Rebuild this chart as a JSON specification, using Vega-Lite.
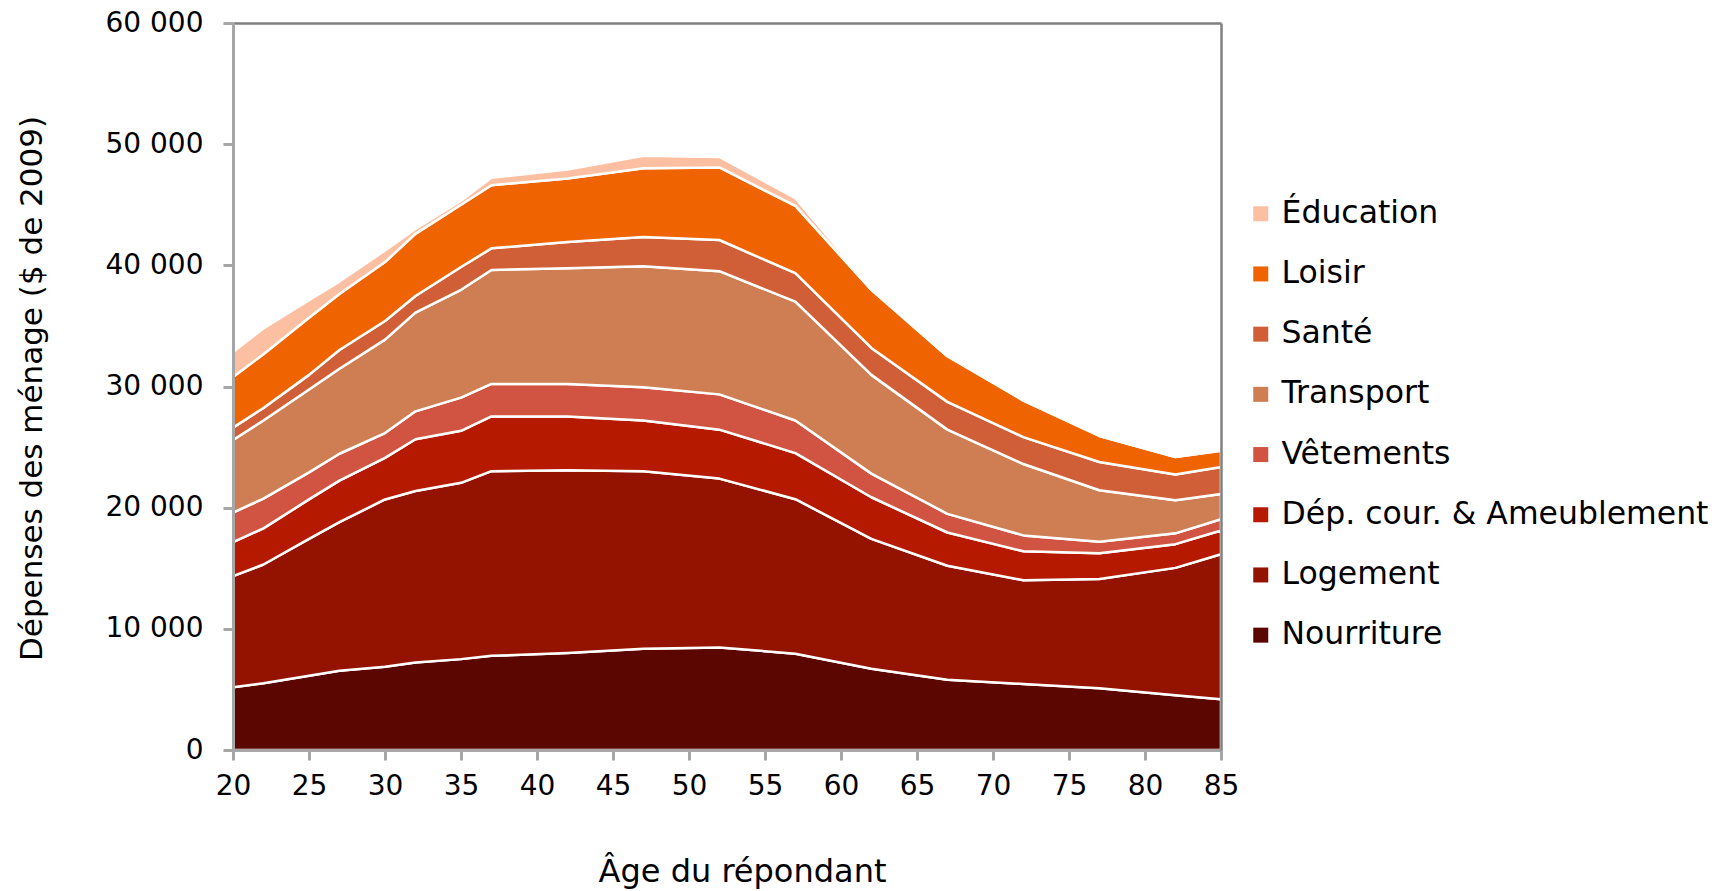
{
  "$schema": "https://vega.github.io/schema/vega-lite/v6.json",
  "autosize": {"type": "none"},
  "width": 988,
  "height": 727,
  "padding": {"left": 233, "top": 23, "right": 506, "bottom": 141},
  "background": "white",
  "config": {
    "font": "DejaVu Sans",
    "view": {"stroke": null},
    "axis": {"labelColor": "#000000", "titleColor": "#000000", "titleFontWeight": "normal", "grid": false}
  },
  "datasets": {
    "wide": [
      {"age": 20, "n": 5170, "lg": 9180, "d": 2810, "v": 2430, "t": 5990, "s": 1030, "lo": 4180, "e": 2050},
      {"age": 22, "n": 5510, "lg": 9800, "d": 2980, "v": 2460, "t": 6440, "s": 1030, "lo": 4450, "e": 2120},
      {"age": 25, "n": 6130, "lg": 11300, "d": 3250, "v": 2230, "t": 6850, "s": 1200, "lo": 4720, "e": 1440},
      {"age": 27, "n": 6540, "lg": 12260, "d": 3430, "v": 2220, "t": 7020, "s": 1540, "lo": 4630, "e": 1020},
      {"age": 30, "n": 6880, "lg": 13800, "d": 3430, "v": 2050, "t": 7710, "s": 1540, "lo": 4860, "e": 960},
      {"age": 32, "n": 7230, "lg": 14140, "d": 4280, "v": 2300, "t": 8150, "s": 1370, "lo": 5130, "e": 410},
      {"age": 35, "n": 7500, "lg": 14550, "d": 4290, "v": 2740, "t": 8900, "s": 1880, "lo": 5140, "e": 340},
      {"age": 37, "n": 7770, "lg": 15240, "d": 4520, "v": 2680, "t": 9410, "s": 1780, "lo": 5210, "e": 620},
      {"age": 42, "n": 8010, "lg": 15070, "d": 4450, "v": 2680, "t": 9550, "s": 2160, "lo": 5240, "e": 750},
      {"age": 47, "n": 8360, "lg": 14650, "d": 4180, "v": 2740, "t": 10000, "s": 2400, "lo": 5680, "e": 1030},
      {"age": 52, "n": 8460, "lg": 13940, "d": 4040, "v": 2910, "t": 10170, "s": 2570, "lo": 5990, "e": 860},
      {"age": 57, "n": 7950, "lg": 12750, "d": 3800, "v": 2690, "t": 9810, "s": 2350, "lo": 5550, "e": 650},
      {"age": 62, "n": 6710, "lg": 10720, "d": 3430, "v": 1950, "t": 8150, "s": 2220, "lo": 4800, "e": 100},
      {"age": 67, "n": 5790, "lg": 9420, "d": 2740, "v": 1540, "t": 6950, "s": 2290, "lo": 3770, "e": 50},
      {"age": 72, "n": 5450, "lg": 8560, "d": 2390, "v": 1310, "t": 5890, "s": 2220, "lo": 3020, "e": 40},
      {"age": 77, "n": 5100, "lg": 9010, "d": 2120, "v": 960, "t": 4250, "s": 2330, "lo": 2150, "e": 30},
      {"age": 82, "n": 4520, "lg": 10510, "d": 1960, "v": 890, "t": 2740, "s": 2120, "lo": 1440, "e": 20},
      {"age": 85, "n": 4180, "lg": 11980, "d": 1960, "v": 920, "t": 2090, "s": 2230, "lo": 1330, "e": 20}
    ],
    "names": [
      {"key": "n", "cat": "Nourriture", "k": 0},
      {"key": "lg", "cat": "Logement", "k": 1},
      {"key": "d", "cat": "Dép. cour. & Ameublement", "k": 2},
      {"key": "v", "cat": "Vêtements", "k": 3},
      {"key": "t", "cat": "Transport", "k": 4},
      {"key": "s", "cat": "Santé", "k": 5},
      {"key": "lo", "cat": "Loisir", "k": 6},
      {"key": "e", "cat": "Éducation", "k": 7}
    ]
  },
  "data": {"name": "wide"},
  "transform": [
    {"fold": ["n", "lg", "d", "v", "t", "s", "lo", "e"], "as": ["key", "val"]},
    {"lookup": "key", "from": {"data": {"name": "names"}, "key": "key", "fields": ["cat", "k"]}}
  ],
  "layer": [
    {
      "mark": {"type": "area", "stroke": "white", "strokeWidth": 2.5, "strokeJoin": "round"},
      "encoding": {
        "x": {
          "field": "age", "type": "quantitative",
          "scale": {"domain": [20, 85], "nice": false, "zero": false},
          "axis": {
            "values": [20, 25, 30, 35, 40, 45, 50, 55, 60, 65, 70, 75, 80, 85],
            "title": "Âge du répondant", "titleFontSize": 32, "titleX": 509, "titleY": 131, "titleBaseline": "alphabetic", "titleAlign": "center",
            "labelFontSize": 28, "labelPadding": 12, "labelFlush": false,
            "domainColor": "#a6a6a6", "domainWidth": 3, "tickColor": "#a6a6a6", "tickWidth": 3, "tickSize": 10,
            "zindex": 2
          }
        },
        "y": {
          "field": "val", "type": "quantitative", "stack": "zero",
          "scale": {"domain": [0, 60000], "nice": false},
          "axis": {
            "values": [0, 10000, 20000, 30000, 40000, 50000, 60000],
            "labelExpr": "replace(format(datum.value, ','), ',', ' ')",
            "title": "Dépenses des ménage ($ de 2009)", "titleFontSize": 31, "titleX": -201, "titleY": 365, "titleAngle": -90, "titleBaseline": "middle", "titleAlign": "center",
            "labelFontSize": 28, "labelPadding": 20,
            "domainColor": "#a6a6a6", "domainWidth": 3, "tickColor": "#a6a6a6", "tickWidth": 3, "tickSize": 10,
            "zindex": 2
          }
        },
        "color": {
          "field": "cat", "type": "nominal",
          "scale": {
            "domain": ["Éducation", "Loisir", "Santé", "Transport", "Vêtements", "Dép. cour. & Ameublement", "Logement", "Nourriture"],
            "range": ["#fdbfa1", "#ef6400", "#d05f38", "#ce7e52", "#d15443", "#b51a00", "#941200", "#5c0600"]
          },
          "legend": {
            "orient": "none", "legendX": 1012, "legendY": 175, "title": null,
            "symbolType": "square", "symbolSize": 225, "symbolStrokeWidth": 0, "symbolOpacity": 1,
            "labelFontSize": 31.5, "labelOffset": 5, "rowPadding": 27.2, "labelColor": "#000000", "labelLimit": 600
          }
        },
        "order": {"field": "k", "type": "quantitative"}
      }
    },
    {
      "mark": {"type": "area", "opacity": 0},
      "encoding": {
        "x": {
          "field": "age", "type": "quantitative",
          "scale": {"domain": [20, 85], "nice": false, "zero": false},
          "axis": {"orient": "top", "labels": false, "ticks": false, "title": null, "domainColor": "#808080", "domainWidth": 2.5, "zindex": 2}
        },
        "y": {
          "field": "val", "type": "quantitative", "stack": "zero",
          "scale": {"domain": [0, 60000], "nice": false},
          "axis": {"orient": "right", "labels": false, "ticks": false, "title": null, "domainColor": "#808080", "domainWidth": 2.5, "zindex": 2}
        },
        "detail": {"field": "cat"},
        "order": {"field": "k", "type": "quantitative"}
      }
    }
  ],
  "resolve": {"axis": {"x": "independent", "y": "independent"}}
}
